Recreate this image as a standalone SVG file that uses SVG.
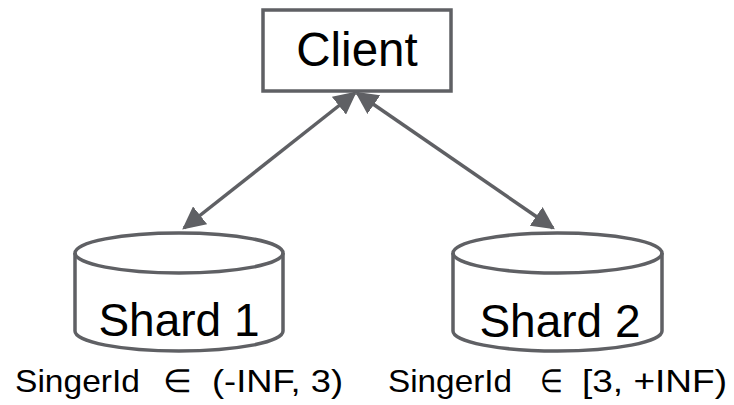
<svg xmlns="http://www.w3.org/2000/svg" width="734" height="405" viewBox="0 0 734 405">
<defs>
<style>
.shape{fill:#ffffff;stroke:#5f6064;stroke-width:3.5;}
.edge{stroke:#5f6064;stroke-width:3.5;fill:none;}
.big{font-family:"Liberation Sans",Arial,sans-serif;font-size:46px;fill:#000;text-anchor:middle;}
.lbl{font-family:"Liberation Sans",Arial,sans-serif;font-size:32px;fill:#000;}
</style>
<marker id="ah" viewBox="0 0 10 10" refX="9" refY="5" markerWidth="6.5" markerHeight="6.5" markerUnits="strokeWidth" orient="auto-start-reverse">
<path d="M0,0 L10,5 L0,10 Z" fill="#5f6064"/>
</marker>
</defs>
<rect width="734" height="405" fill="#ffffff"/>
<g id="connectors">
<line class="edge" x1="355" y1="93" x2="184" y2="228" marker-start="url(#ah)" marker-end="url(#ah)"/>
<line class="edge" x1="357" y1="93" x2="553" y2="228" marker-start="url(#ah)" marker-end="url(#ah)"/>
</g>
<g id="client">
<rect class="shape" x="263" y="10" width="188" height="81"/>
<text class="big" x="357" y="66" style="font-size:47.5px">Client</text>
</g>
<g id="shard1">
<path class="shape" d="M75,253 L75,331 A104,20 0 0 0 283,331 L283,253 A104,20 0 0 0 75,253 Z"/>
<path class="shape" style="fill:none" d="M75,253 A104,20 0 0 0 283,253"/>
<text class="big" x="179" y="336">Shard 1</text>
</g>
<g id="shard2">
<path class="shape" d="M453,253 L453,331 A104.5,20 0 0 0 662,331 L662,253 A104.5,20 0 0 0 453,253 Z"/>
<path class="shape" style="fill:none" d="M453,253 A104.5,20 0 0 0 662,253"/>
<text class="big" x="560" y="337">Shard 2</text>
</g>
<g id="labels">
<text class="lbl" y="392"><tspan x="15" textLength="125" lengthAdjust="spacingAndGlyphs">SingerId</tspan> <tspan x="163" textLength="29" lengthAdjust="spacingAndGlyphs">∈</tspan> <tspan x="212" textLength="131" lengthAdjust="spacingAndGlyphs">(-INF, 3)</tspan></text>
<text class="lbl" y="392"><tspan x="388" textLength="124" lengthAdjust="spacingAndGlyphs">SingerId</tspan> <tspan x="540" textLength="23" lengthAdjust="spacingAndGlyphs">∈</tspan> <tspan x="582" textLength="145" lengthAdjust="spacingAndGlyphs">[3, +INF)</tspan></text>
</g>
</svg>
